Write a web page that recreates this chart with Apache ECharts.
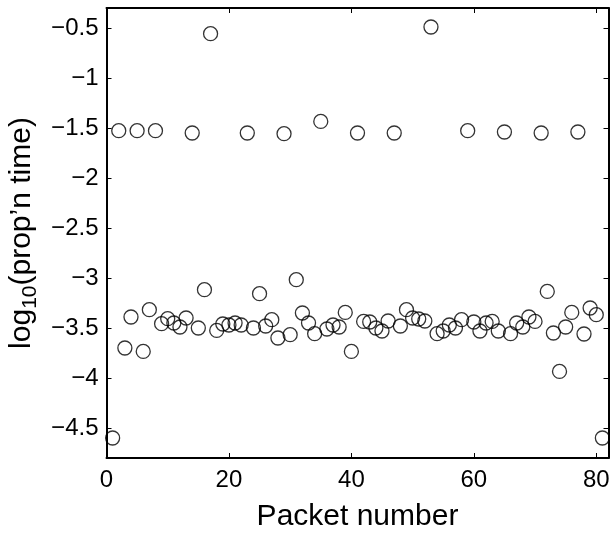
<!DOCTYPE html>
<html>
<head>
<meta charset="utf-8">
<script src="https://cdn.jsdelivr.net/npm/echarts@6/dist/echarts.min.js"></script>
<style>
  html, body { margin: 0; padding: 0; background: #ffffff; }
  #chart { width: 614px; height: 533px; }
</style>
</head>
<body>
<div id="chart"></div>
<script>
const packets = [
  1, 2, 3, 4, 5, 6, 7, 8, 9, 10,
  11, 12, 13, 14, 15, 16, 17, 18, 19, 20,
  21, 22, 23, 24, 25, 26, 27, 28, 29, 30,
  31, 32, 33, 34, 35, 36, 37, 38, 39, 40,
  41, 42, 43, 44, 45, 46, 47, 48, 49, 50,
  51, 52, 53, 54, 55, 56, 57, 58, 59, 60,
  61, 62, 63, 64, 65, 66, 67, 68, 69, 70,
  71, 72, 73, 74, 75, 76, 77, 78, 79, 80,
  81
];
const logPropTime = [
  -4.60, -1.527, -3.70, -3.39, -1.527, -3.734, -3.317, -1.527, -3.457, -3.407,
  -3.45, -3.49, -3.40, -1.55, -3.50, -3.117, -0.557, -3.524, -3.46, -3.47,
  -3.45, -3.47, -1.55, -3.50, -3.157, -3.48, -3.417, -3.60, -1.557, -3.567,
  -3.017, -3.35, -3.45, -3.557, -1.434, -3.51, -3.47, -3.49, -3.344, -3.734,
  -1.55, -3.434, -3.44, -3.50, -3.53, -3.43, -1.55, -3.48, -3.317, -3.40,
  -3.41, -3.43, -0.49, -3.557, -3.53, -3.47, -3.50, -3.417, -1.527, -3.44,
  -3.53, -3.45, -3.434, -3.53, -1.54, -3.557, -3.45, -3.49, -3.39, -3.434,
  -1.55, -3.134, -3.55, -3.934, -3.49, -3.344, -1.54, -3.56, -3.30, -3.367,
  -4.60
];
const xTicks = [0, 20, 40, 60, 80];
const yTicks = [-4.5, -4, -3.5, -3, -2.5, -2, -1.5, -1, -0.5];
const xRange = [0, 82];
const yRange = [-4.8, -0.3];
const xTitle = 'Packet number';
const yTitle = '{m|log}{sub|10}{m|(prop\u2019n time)}';

const points = packets.map((p, i) => [p, logPropTime[i]]);
const fmt = v => String(v).replace('-', '\u2212');
const FONT = '"Liberation Sans", Arial, Helvetica, sans-serif';
const lineStyle = { color: '#000', width: 2 };

function xAxisCfg(pos, showLabels) {
  return {
    type: 'value', position: pos, min: xRange[0], max: xRange[1],
    axisLine: { show: true, onZero: false, lineStyle },
    axisTick: { show: true, inside: true, length: 5, customValues: xTicks, lineStyle: { color: '#000', width: 1 } },
    axisLabel: { show: showLabels, customValues: xTicks, formatter: fmt, color: '#000', fontSize: 24, fontFamily: FONT, margin: 10 },
    splitLine: { show: false },
    name: showLabels ? xTitle : '', nameLocation: 'middle', nameGap: 44,
    nameTextStyle: { color: '#000', fontSize: 30, fontFamily: FONT }
  };
}
function yAxisCfg(pos, showLabels) {
  return {
    type: 'value', position: pos, min: yRange[0], max: yRange[1],
    axisLine: { show: true, onZero: false, lineStyle },
    axisTick: { show: true, inside: true, length: 5, customValues: yTicks, lineStyle: { color: '#000', width: 1 } },
    axisLabel: { show: showLabels, customValues: yTicks, formatter: fmt, color: '#000', fontSize: 24, fontFamily: FONT, margin: 8 },
    splitLine: { show: false },
    name: showLabels ? yTitle : '', nameLocation: 'middle', nameGap: 44, nameRotate: 90,
    nameTextStyle: {
      color: '#000', fontSize: 30, fontFamily: FONT,
      rich: {
        m: { fontSize: 30, lineHeight: 30, fontFamily: FONT, color: '#000', verticalAlign: 'top' },
        sub: { fontSize: 21, lineHeight: 21, padding: [12, 0, 0, 0], fontFamily: FONT, color: '#000', verticalAlign: 'top' }
      }
    }
  };
}

const chart = echarts.init(document.getElementById('chart'), null, { renderer: 'canvas' });
chart.setOption({
  animation: false,
  backgroundColor: '#ffffff',
  grid: { left: 106.5, right: 5.5, top: 8, bottom: 75, containLabel: false, outerBoundsMode: 'none' },
  xAxis: [xAxisCfg('bottom', true), xAxisCfg('top', false)],
  yAxis: [yAxisCfg('left', true), yAxisCfg('right', false)],
  series: [{
    type: 'scatter',
    xAxisIndex: 0, yAxisIndex: 0,
    data: points,
    symbol: 'circle',
    symbolSize: 14,
    itemStyle: { color: 'rgba(0,0,0,0)', borderColor: '#000', borderWidth: 1.3 },
    emphasis: { disabled: true }
  }]
});
</script>
</body>
</html>
